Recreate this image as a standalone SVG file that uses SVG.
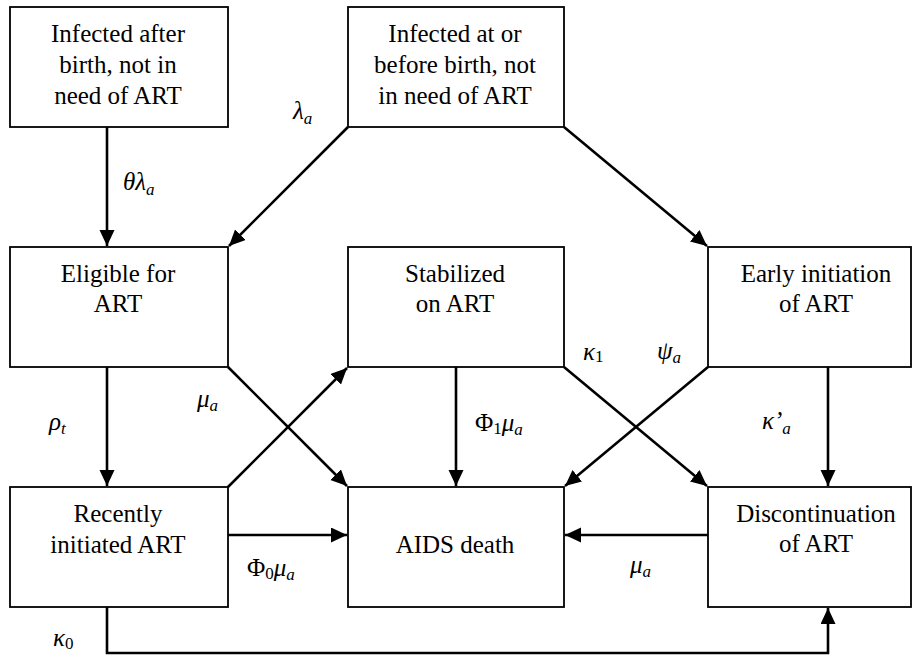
<svg xmlns="http://www.w3.org/2000/svg" width="915" height="657" viewBox="0 0 915 657">
<style>
.box{fill:#fff;stroke:#000;stroke-width:1.8}
.t{font-family:'Liberation Serif','Times New Roman',serif;font-size:25px;fill:#000;text-anchor:middle}
.m{font-family:'Liberation Serif','Times New Roman',serif;font-size:25px;fill:#000;font-style:italic}
.up{font-style:normal}
.sub{font-size:17px}
.c{fill:none;stroke:#000;stroke-width:2.6}
</style>
<defs>
<marker id="ah" markerUnits="userSpaceOnUse" markerWidth="17" markerHeight="16" refX="16" refY="7.5" orient="auto">
<path d="M0,0 L16,7.5 L0,15 z" fill="#000"/>
</marker>
</defs>
<rect width="915" height="657" fill="#fff"/>
<g id="connectors">
<line class="c" x1="107" y1="127" x2="107" y2="246" marker-end="url(#ah)"/>
<line class="c" x1="348" y1="127" x2="229" y2="246" marker-end="url(#ah)"/>
<line class="c" x1="564" y1="127" x2="707" y2="246" marker-end="url(#ah)"/>
<line class="c" x1="107" y1="367" x2="107" y2="486" marker-end="url(#ah)"/>
<line class="c" x1="228" y1="367" x2="347" y2="486" marker-end="url(#ah)"/>
<line class="c" x1="228" y1="487" x2="347" y2="368" marker-end="url(#ah)"/>
<line class="c" x1="456" y1="367" x2="456" y2="486" marker-end="url(#ah)"/>
<line class="c" x1="564" y1="367" x2="707" y2="486" marker-end="url(#ah)"/>
<line class="c" x1="708" y1="367" x2="565" y2="486" marker-end="url(#ah)"/>
<line class="c" x1="828" y1="367" x2="828" y2="486" marker-end="url(#ah)"/>
<line class="c" x1="228" y1="535" x2="347" y2="535" marker-end="url(#ah)"/>
<line class="c" x1="708" y1="535" x2="565" y2="535" marker-end="url(#ah)"/>
<path class="c" d="M107,607 V653 H828 V608" marker-end="url(#ah)"/>
</g>
<g id="labels">
<text class="m" x="123" y="190">θλ<tspan class="sub" dy="5">a</tspan></text>
<text class="m" x="293" y="119">λ<tspan class="sub" dy="5">a</tspan></text>
<text class="m" x="49" y="430">ρ<tspan class="sub" dy="4">t</tspan></text>
<text class="m" x="197" y="407">μ<tspan class="sub" dy="4">a</tspan></text>
<text class="m" x="583" y="360">κ<tspan class="sub up" dy="2">1</tspan></text>
<text class="m" x="657" y="359">ψ<tspan class="sub" dy="4">a</tspan></text>
<text class="m" x="475" y="431"><tspan class="up">Φ</tspan><tspan class="sub up" dy="3">1</tspan><tspan dy="-3">μ</tspan><tspan class="sub" dy="4">a</tspan></text>
<text class="m" x="762" y="429">κ’<tspan class="sub" dy="5">a</tspan></text>
<text class="m" x="247" y="576"><tspan class="up">Φ</tspan><tspan class="sub up" dy="3">0</tspan><tspan dy="-3">μ</tspan><tspan class="sub" dy="4">a</tspan></text>
<text class="m" x="630" y="573">μ<tspan class="sub" dy="4">a</tspan></text>
<text class="m" x="53" y="646">κ<tspan class="sub up" dy="3">0</tspan></text>
</g>
<g id="nodes">
<g id="n1">
<rect class="box" x="10" y="7" width="218" height="120"/>
<text class="t" x="118" y="42">Infected after</text>
<text class="t" x="118" y="73">birth, not in</text>
<text class="t" x="118" y="104">need of ART</text>
</g>
<g id="n2">
<rect class="box" x="348" y="7" width="216" height="120"/>
<text class="t" x="455" y="42">Infected at or</text>
<text class="t" x="455" y="73">before birth, not</text>
<text class="t" x="455" y="104">in need of ART</text>
</g>
<g id="n3">
<rect class="box" x="10" y="247" width="218" height="120"/>
<text class="t" x="118" y="282">Eligible for</text>
<text class="t" x="118" y="312">ART</text>
</g>
<g id="n4">
<rect class="box" x="348" y="247" width="216" height="120"/>
<text class="t" x="455" y="282">Stabilized</text>
<text class="t" x="455" y="312">on ART</text>
</g>
<g id="n5">
<rect class="box" x="708" y="247" width="203" height="120"/>
<text class="t" x="816" y="282">Early initiation</text>
<text class="t" x="816" y="312">of ART</text>
</g>
<g id="n6">
<rect class="box" x="10" y="487" width="218" height="120"/>
<text class="t" x="118" y="522">Recently</text>
<text class="t" x="118" y="553">initiated ART</text>
</g>
<g id="n7">
<rect class="box" x="348" y="487" width="216" height="120"/>
<text class="t" x="455" y="553">AIDS death</text>
</g>
<g id="n8">
<rect class="box" x="708" y="487" width="203" height="120"/>
<text class="t" x="816" y="522">Discontinuation</text>
<text class="t" x="816" y="552">of ART</text>
</g>
</g>
</svg>
